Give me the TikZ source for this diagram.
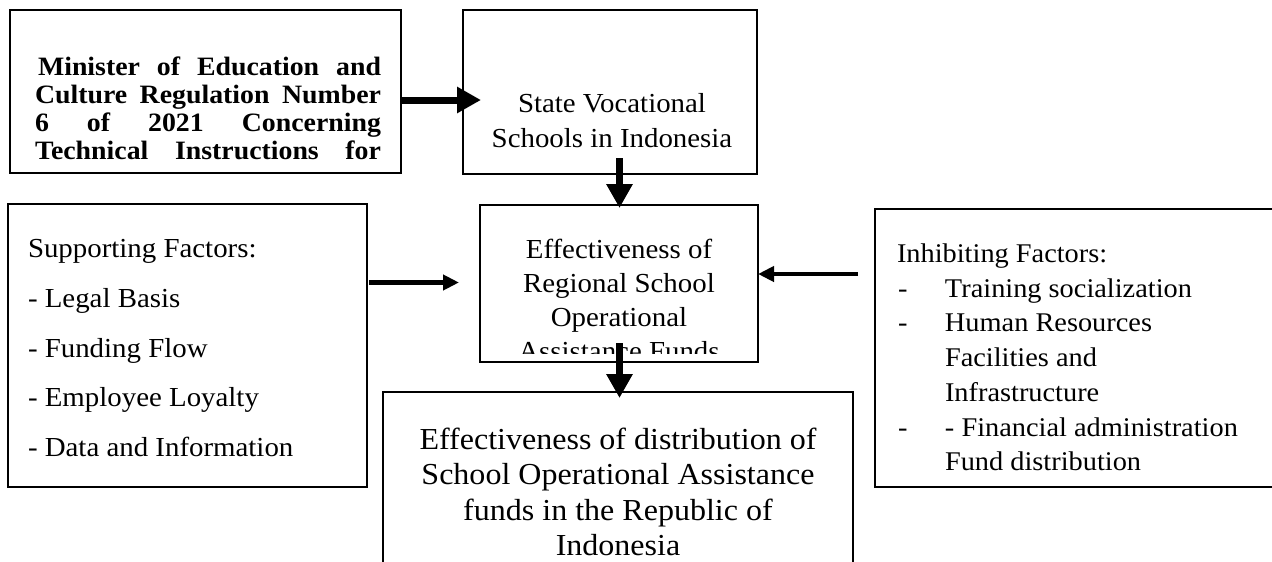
\documentclass[tikz,border=0pt]{standalone}
\usepackage{fontspec}
\setmainfont{Liberation Serif}[FakeStretch=1.05]
\usetikzlibrary{arrows.meta}

\tikzset{
  frame/.style={draw=black, line width=1.8pt, inner sep=0pt, outer sep=0pt},
  txt/.style={inner sep=0pt, outer sep=0pt, text=black},
  fatarrow/.style={draw=black, line width=7pt, -{Triangle[length=24pt,width=25pt]}},
  slimarrow/.style={draw=black, line width=4.5pt, -{Triangle[length=16pt,width=15pt]}},
}

\begin{document}
\begin{tikzpicture}[x=1pt,y=-1pt]
\useasboundingbox (0,0) rectangle (1272,562);
\clip (0,0) rectangle (1272,562);

% boxes
\node[frame, minimum width=391pt, minimum height=163pt] (reg)  at (205.5,91.5) {};
\node[frame, minimum width=294pt, minimum height=164pt] (svs)  at (610,92) {};
\node[frame, minimum width=278pt, minimum height=157pt] (eff)  at (619,283.5) {};
\node[frame, minimum width=359pt, minimum height=283pt] (sup)  at (187.5,345.5) {};
\node[frame, minimum width=410pt, minimum height=278pt] (inh)  at (1080,348) {};
\node[frame, minimum width=470pt, minimum height=188pt] (dist) at (618,486) {};

% regulation text (justified, cut by the box)
\begin{scope}
\clip (reg.north west) rectangle ([yshift=6pt]reg.south east);
\node[txt, anchor=base west] (regtxt) at (35,75) {\bfseries\fontsize{26.5}{28}\selectfont
\begin{tabular}[t]{@{}l@{}}
\hspace*{3pt}\makebox[343pt][s]{Minister of Education and}\\
\makebox[346pt][s]{Culture Regulation Number}\\
\makebox[346pt][s]{6 of 2021 Concerning}\\
\makebox[346pt][s]{Technical Instructions for}
\end{tabular}};
\end{scope}

% schools
\node[txt, anchor=base] (svstxt) at (612,112) {\fontsize{27.5}{35}\selectfont
\begin{tabular}[t]{@{}c@{}}
State Vocational\\
Schools in Indonesia
\end{tabular}};

% regional funds
\begin{scope}
\clip (eff.north west) rectangle ([yshift=9pt]eff.south east);
\node[txt, anchor=base] (efftxt) at (619,258) {\fontsize{27.5}{34}\selectfont
\begin{tabular}[t]{@{}c@{}}
Effectiveness of\\
Regional School\\
Operational\\
Assistance Funds
\end{tabular}};
\end{scope}

% supporting factors
\node[txt, anchor=base west] (suptxt) at (28,257.5) {\fontsize{27.5}{49.8}\selectfont
\begin{tabular}[t]{@{}l@{}}
Supporting Factors:\\
- Legal Basis\\
- Funding Flow\\
- Employee Loyalty\\
- Data and Information
\end{tabular}};

% inhibiting factors
\node[txt, anchor=base west] (inhtxt) at (897,262.5) {\fontsize{27}{34.7}\selectfont
\begin{tabular}[t]{@{}l@{}l@{}}
\multicolumn{2}{@{}l@{}}{Inhibiting Factors:}\\
\makebox[48pt][l]{\hspace*{1pt}-} & Training socialization\\
\makebox[48pt][l]{\hspace*{1pt}-} & Human Resources\\
 & Facilities and\\
 & Infrastructure\\
\makebox[48pt][l]{\hspace*{1pt}-} & - Financial administration\\
 & Fund distribution
\end{tabular}};

% distribution result
\begin{scope}
\clip (dist.north west) rectangle ([yshift=25pt]dist.south east);
\node[txt, anchor=base] (disttxt) at (618,449) {\fontsize{30.5}{35.5}\selectfont
\begin{tabular}[t]{@{}c@{}}
Effectiveness of distribution of\\
School Operational Assistance\\
funds in the Republic of\\
Indonesia
\end{tabular}};
\end{scope}

% connectors
\draw[fatarrow] ([yshift=-8.5pt]reg.east) -- ([shift={(18pt,-8pt)}]svs.west);
\draw[fatarrow] ([shift={(9.5pt,16pt)}]svs.south) -- ([shift={(0.5pt,-3pt)}]eff.north);
\draw[fatarrow] ([shift={(0.5pt,19pt)}]eff.south) -- ([shift={(1.5pt,-6pt)}]dist.north);
\draw[slimarrow] ([shift={(2pt,63pt)}]sup.east) -- ([shift={(-21pt,1pt)}]eff.west);
\draw[slimarrow] ([shift={(-17pt,74pt)}]inh.west) -- ([yshift=9.5pt]eff.east);
\end{tikzpicture}
\end{document}
